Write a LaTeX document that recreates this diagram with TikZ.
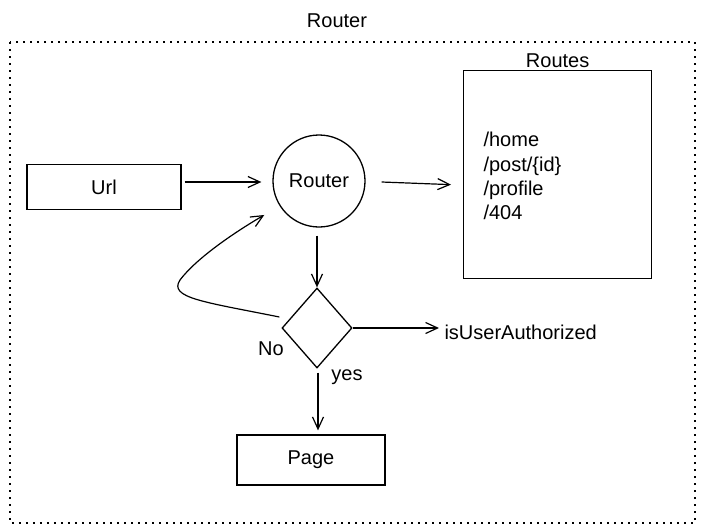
\documentclass[tikz,border=0pt]{standalone}
\usepackage{fontspec}
\setmainfont{Liberation Sans}
\usetikzlibrary{shapes.geometric,arrows.meta,calc}
\begin{document}
\begin{tikzpicture}[x=1pt,y=-1pt,
  every node/.style={font=\fontsize{20}{24}\selectfont},
  box/.style={draw,line width=1.3pt,inner sep=0pt},
  conn/.style={line width=1.2pt,-{Straight Barb[length=12pt,width=11pt,line width=1.2pt]}},
  frame/.style={line width=1.6pt,dash pattern=on 1.6pt off 5.4pt}]
\useasboundingbox (0,0) rectangle (703,530);
\draw[frame] (10,42) rectangle (695,523);
\node (title) at (337,21) {Router};
\node[box,minimum width=154pt,minimum height=45pt] (url) at (104,187) {Url};
\node[box,circle,minimum size=92pt] (router) at (319,181) {Router};
\node[box,anchor=north west,minimum width=188pt,minimum height=208pt] (routes) at (463,70) {};
\node[anchor=south,inner sep=2pt] (routeslbl) at (routes.north) {Routes};
\node[anchor=west,align=left,font=\fontsize{20}{24.3}\selectfont] (list) at (480,176) {/home\\/post/\{id\}\\/profile\\/404};
\node[box,diamond,minimum width=70pt,minimum height=80pt] (d) at (317,328) {};
\node[anchor=west] (auth) at (441,332) {isUserAuthorized};
\node[box,minimum width=148pt,minimum height=50pt] (page) at (311,460) {Page};
\node (no) at (271,349) {No};
\node (yes) at (347,377) {yes};
\coordinate (u1) at ($(url.east)+(3,-5)$);
\coordinate (u2) at ($(router.west)+(-11,1)$);
\draw[conn] (u1) -- (u2);
\coordinate (r1) at ($(router.east)+(16,1)$);
\coordinate (r2) at ($(routes.west)+(-12,10)$);
\draw[conn] (r1) -- (r2);
\coordinate (s1) at ($(router.south)+(-2,8)$);
\draw[conn] (s1) -- (s1 |- d.north);
\draw[conn] (d.east) -- ($(auth.west)+(-2,-4)$);
\coordinate (s2) at ($(d.south)+(1,4)$);
\draw[conn] (s2) -- ($(s2 |- page.north)+(0,-4)$);
\coordinate (c1) at ($(d.west)+(-2,-11)$);
\coordinate (c2) at ($(router.220)+(-19,4)$);
\draw[conn] (c1) .. controls (205,302) and (168,298) .. (180,280) .. controls (195,260) and (230,235) .. (c2);
\end{tikzpicture}
\end{document}
